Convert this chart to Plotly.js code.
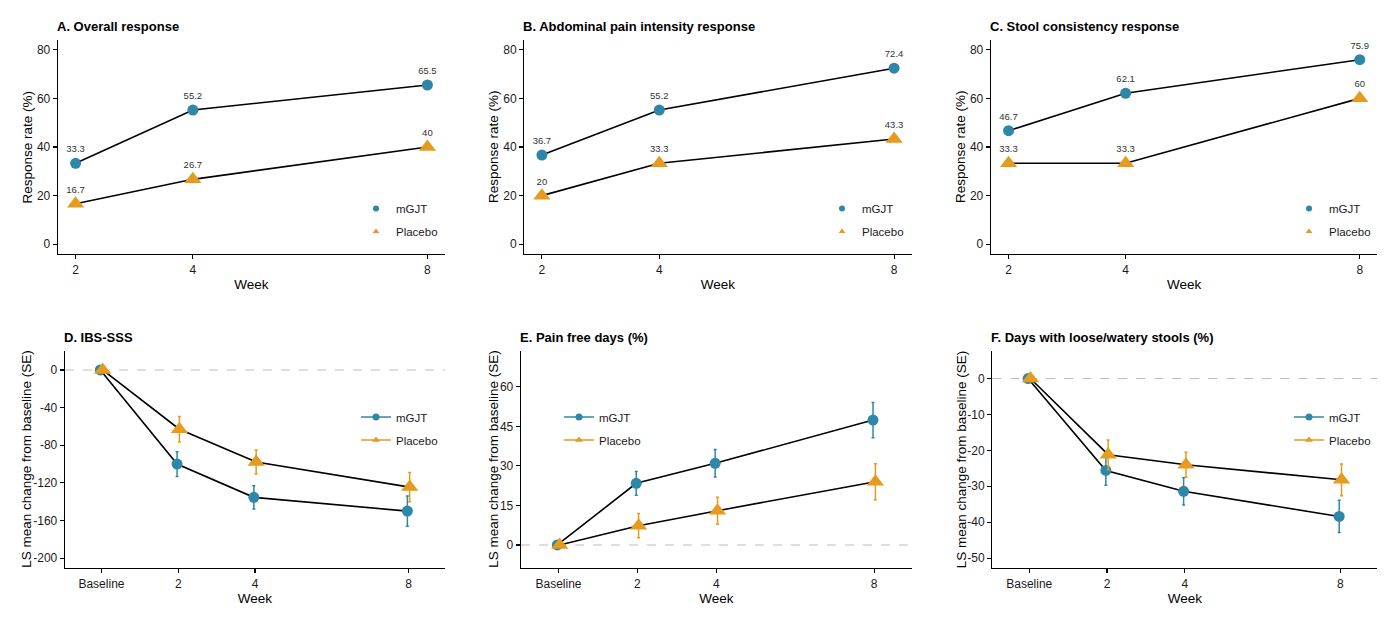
<!DOCTYPE html>
<html>
<head>
<meta charset="utf-8">
<script src="https://cdn.plot.ly/plotly-3.0.1.min.js"></script>
<style>
  html, body { margin: 0; padding: 0; background: #ffffff; }
  #chart { width: 1400px; height: 622px; }
</style>
</head>
<body>
<div id="chart"></div>
<script>
// Response rates (%) at weeks 2, 4 and 8
const weeksTop = [2, 4, 8];
const overallMGJT = [33.3, 55.2, 65.5];
const overallPlacebo = [16.7, 26.7, 40];
const painMGJT = [36.7, 55.2, 72.4];
const painPlacebo = [20, 33.3, 43.3];
const stoolMGJT = [46.7, 62.1, 75.9];
const stoolPlacebo = [33.3, 33.3, 60];

// LS mean change from baseline with SE
const weeksBottom = [0, 2, 4, 8];
const weekLabels = ['Baseline', '2', '4', '8'];
const ibsMGJT = [0, -100, -135.4, -150];
const ibsMGJTse = [0, 13.2, 12.3, 16];
const ibsPlacebo = [0, -63, -97.8, -124.5];
const ibsPlaceboSe = [0, 13.5, 12.7, 15.5];
const pfdMGJT = [0, 23.4, 31.0, 47.4];
const pfdMGJTse = [0, 4.5, 5.2, 6.7];
const pfdPlacebo = [0, 7.3, 13.0, 24.0];
const pfdPlaceboSe = [0, 4.6, 5.1, 6.8];
const looseMGJT = [0, -25.6, -31.4, -38.4];
const looseMGJTse = [0, 4.1, 3.8, 4.5];
const loosePlacebo = [0, -21.2, -24.0, -28.2];
const loosePlaceboSe = [0, 4.1, 3.5, 4.4];

const groups = ['mGJT', 'Placebo'];
const colors = { mGJT: '#2F87A8', Placebo: '#E69A1E' };
const symbols = { mGJT: 'circle', Placebo: 'triangle-up' };
const sizes = { mGJT: 11, Placebo: 15 };
const dodge = { mGJT: -0.03, Placebo: 0.03 };

const W = 1400, H = 622;
const FONT = 'Liberation Sans, Arial, sans-serif';
const fx = p => p / W;
const fy = p => 1 - p / H;

const traces = [];

function topPanel(n, mg, pl) {
  const xa = 'x' + (n === 1 ? '' : n), ya = 'y' + (n === 1 ? '' : n);
  const vals = { mGJT: mg, Placebo: pl };
  groups.forEach(g => traces.push({
    type: 'scatter', mode: 'lines', x: weeksTop, y: vals[g], xaxis: xa, yaxis: ya,
    line: { color: '#000000', width: 1.6 }, showlegend: false, hoverinfo: 'skip'
  }));
  // point markers
  groups.forEach(g => traces.push({
    type: 'scatter', mode: 'markers', x: weeksTop, y: vals[g], xaxis: xa, yaxis: ya,
    marker: { color: colors[g], symbol: symbols[g], size: sizes[g] },
    cliponaxis: false, showlegend: false, name: g
  }));
  // value labels above each point (invisible spacer marker sets the offset)
  groups.forEach(g => traces.push({
    type: 'scatter', mode: 'markers+text', x: weeksTop, y: vals[g], xaxis: xa, yaxis: ya,
    text: vals[g].map(String), textposition: 'top center',
    marker: { size: 12, color: 'rgba(0,0,0,0)' },
    textfont: { family: FONT, size: 9.5, color: '#333333' },
    cliponaxis: false, showlegend: false, hoverinfo: 'skip'
  }));
  const lg = 'legend' + (n === 1 ? '' : n);
  groups.forEach(g => traces.push({
    type: 'scatter', mode: 'markers', x: [null], y: [null], xaxis: xa, yaxis: ya,
    marker: { color: colors[g], symbol: symbols[g], size: 6 },
    name: g, legend: lg, legendgroup: lg + g, showlegend: true
  }));
}

function bottomPanel(n, mg, mgse, pl, plse) {
  const xa = 'x' + n, ya = 'y' + n;
  const vals = { mGJT: mg, Placebo: pl };
  const ses = { mGJT: mgse, Placebo: plse };
  groups.forEach(g => traces.push({
    type: 'scatter', mode: 'lines', x: weeksBottom.map(w => w + dodge[g]), y: vals[g],
    xaxis: xa, yaxis: ya, line: { color: '#000000', width: 1.6 },
    showlegend: false, hoverinfo: 'skip'
  }));
  groups.forEach(g => traces.push({
    type: 'scatter', mode: 'markers', x: weeksBottom.map(w => w + dodge[g]), y: vals[g],
    xaxis: xa, yaxis: ya,
    error_y: { type: 'data', array: ses[g], visible: true, color: colors[g], thickness: 1.5, width: 1.5 },
    marker: { color: colors[g], symbol: symbols[g], size: sizes[g] },
    cliponaxis: false, showlegend: false, name: g
  }));
  const lg = 'legend' + n;
  groups.forEach(g => traces.push({
    type: 'scatter', mode: 'lines+markers', x: [null], y: [null], xaxis: xa, yaxis: ya,
    line: { color: colors[g], width: 1.6 },
    marker: { color: colors[g], symbol: symbols[g], size: 7 },
    name: g, legend: lg, legendgroup: lg + g, showlegend: true
  }));
}

topPanel(1, overallMGJT, overallPlacebo);
topPanel(2, painMGJT, painPlacebo);
topPanel(3, stoolMGJT, stoolPlacebo);
bottomPanel(4, ibsMGJT, ibsMGJTse, ibsPlacebo, ibsPlaceboSe);
bottomPanel(5, pfdMGJT, pfdMGJTse, pfdPlacebo, pfdPlaceboSe);
bottomPanel(6, looseMGJT, looseMGJTse, loosePlacebo, loosePlaceboSe);

// Panel frames in pixels: [left, right, top, bottom]
const frames = {
  1: [58, 445, 40, 254],
  2: [524.3, 911.7, 40, 254],
  3: [991, 1377.3, 40, 254],
  4: [65, 445, 350.7, 568],
  5: [521, 911.7, 350.7, 568],
  6: [992.3, 1377.3, 350.7, 568]
};
// Horizontal centre of each rotated y-axis title (pixels)
const yTitleX = { 1: 27.5, 2: 494, 3: 961, 4: 26.5, 5: 493.5, 6: 961 };

const tickFont = { family: FONT, size: 12, color: '#1a1a1a' };
const titleFont = { family: FONT, size: 13.5, color: '#000000' };

function xAxis(n, bottom) {
  const f = frames[n];
  const ax = {
    domain: [fx(f[0]), fx(f[1])], anchor: 'y' + (n === 1 ? '' : n),
    showline: true, linecolor: '#000000', linewidth: 1.3,
    ticks: 'outside', ticklen: 4, tickwidth: 1.1, tickcolor: '#000000',
    showgrid: false, zeroline: false, tickfont: tickFont,
    title: { text: 'Week', font: titleFont, standoff: 3 }
  };
  if (bottom) {
    ax.range = [-0.95, 8.95];
    ax.tickmode = 'array'; ax.tickvals = weeksBottom; ax.ticktext = weekLabels;
  } else {
    ax.range = [1.7, 8.3];
    ax.tickmode = 'array'; ax.tickvals = weeksTop; ax.ticktext = weeksTop.map(String);
  }
  return ax;
}

function yAxis(n, range, tickvals) {
  const f = frames[n];
  return {
    domain: [fy(f[3]), fy(f[2])], anchor: 'x' + (n === 1 ? '' : n), range: range,
    showline: true, linecolor: '#000000', linewidth: 1.3,
    ticks: 'outside', ticklen: 4, tickwidth: 1.1, tickcolor: '#000000',
    showgrid: false, zeroline: false, tickfont: tickFont,
    tickmode: 'array', tickvals: tickvals, ticktext: tickvals.map(String)
  };
}

const rateTicks = [0, 20, 40, 60, 80];
const yTitles = {
  1: 'Response rate (%)', 2: 'Response rate (%)', 3: 'Response rate (%)',
  4: 'LS mean change from baseline (SE)', 5: 'LS mean change from baseline (SE)',
  6: 'LS mean change from baseline (SE)'
};

const layout = {
  width: W, height: H,
  margin: { l: 0, r: 0, t: 0, b: 0 },
  paper_bgcolor: '#ffffff', plot_bgcolor: '#ffffff',
  font: { family: FONT, color: '#000000' },
  xaxis: xAxis(1, false), xaxis2: xAxis(2, false), xaxis3: xAxis(3, false),
  xaxis4: xAxis(4, true), xaxis5: xAxis(5, true), xaxis6: xAxis(6, true),
  yaxis: yAxis(1, [-4, 84], rateTicks),
  yaxis2: yAxis(2, [-4, 84], rateTicks),
  yaxis3: yAxis(3, [-4, 84], rateTicks),
  yaxis4: yAxis(4, [-210.5, 20.5], [-200, -160, -120, -80, -40, 0]),
  yaxis5: yAxis(5, [-8.75, 73.75], [0, 15, 30, 45, 60]),
  yaxis6: yAxis(6, [-52.75, 7.75], [-50, -40, -30, -20, -10, 0]),
  shapes: [4, 5, 6].map(n => ({
    type: 'line', layer: 'below', xref: 'x' + n + ' domain', x0: 0, x1: 1,
    yref: 'y' + n, y0: 0, y1: 0, line: { color: '#BDBDBD', width: 1.1, dash: 'dash' }
  })),
  annotations: [],
  showlegend: true
};

const panelTitles = {
  1: 'A. Overall response',
  2: 'B. Abdominal pain intensity response',
  3: 'C. Stool consistency response',
  4: 'D. IBS-SSS',
  5: 'E. Pain free days (%)',
  6: 'F. Days with loose/watery stools (%)'
};
Object.keys(panelTitles).forEach(k => {
  const n = Number(k);
  const f = frames[n];
  layout.annotations.push({
    text: '<b>' + panelTitles[k] + '</b>', showarrow: false,
    xref: 'paper', x: fx(f[0] - 3), xanchor: 'left',
    yref: 'paper', y: fy(n <= 3 ? 26.3 : 337.3), yanchor: 'middle',
    font: { family: FONT, size: 13, color: '#000000' }
  });
  layout.annotations.push({
    text: yTitles[k], showarrow: false, textangle: -90,
    xref: 'paper', x: fx(yTitleX[n]), xanchor: 'center',
    yref: 'paper', y: fy((f[2] + f[3]) / 2), yanchor: 'middle',
    font: titleFont
  });
});

// Legend anchor points (pixels, top-left)
const legendPos = {
  1: [356, 194], 2: [822, 194], 3: [1289, 194],
  4: [356, 402.5], 5: [559, 402.5], 6: [1289, 402.5]
};
Object.keys(legendPos).forEach(k => {
  const n = Number(k);
  layout['legend' + (n === 1 ? '' : n)] = {
    x: fx(legendPos[k][0]), y: fy(legendPos[k][1]), xanchor: 'left', yanchor: 'top',
    bgcolor: 'rgba(0,0,0,0)', borderwidth: 0, traceorder: 'grouped', tracegroupgap: 4,
    font: { family: FONT, size: 11.5, color: '#1a1a1a' }
  };
});

Plotly.newPlot('chart', traces, layout, { displayModeBar: false, staticPlot: true });
</script>
</body>
</html>
